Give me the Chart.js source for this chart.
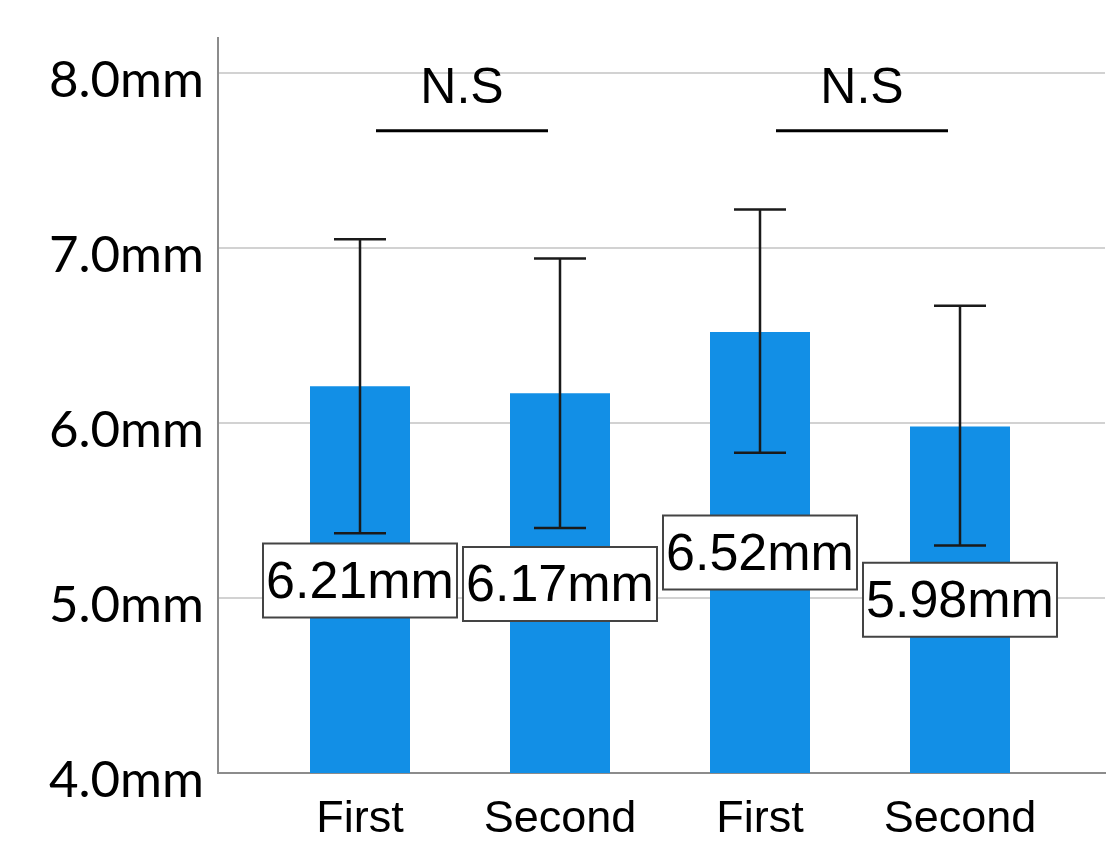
<!DOCTYPE html>
<html>
<head>
<meta charset="utf-8">
<script src="https://cdn.jsdelivr.net/npm/chart.js@4.4.1/dist/chart.umd.min.js"></script>
<style>
  html, body { margin: 0; padding: 0; background: #fff; }
  #wrap { width: 1107px; height: 852px; position: relative; }
</style>
</head>
<body>
<div id="wrap"><canvas id="barChart"></canvas></div>
<script>
// data
const categories = ['First', 'Second', 'First', 'Second'];
const means = [6.21, 6.17, 6.52, 5.98];
const errLow = [5.37, 5.40, 5.83, 5.30];
const errHigh = [7.05, 6.94, 7.22, 6.67];
const valueLabels = ['6.21mm', '6.17mm', '6.52mm', '5.98mm'];
const yTicks = [4, 5, 6, 7, 8];

// where the value boxes sit (in y units) and the N.S brackets
const labelAt = [5.10, 5.08, 5.26, 4.99];
const brackets = [
    { from: 0, to: 1, text: 'N.S' },
    { from: 2, to: 3, text: 'N.S' }
];

const points = means.map((v, i) => ({ x: i, y: v }));

// error bars + value boxes + N.S brackets
const extrasPlugin = {
    id: 'extras',
    afterDatasetsDraw(chart) {
        const ctx = chart.ctx;
        const xs = chart.scales.x;
        const ys = chart.scales.y;

        ctx.save();
        // error bars
        ctx.strokeStyle = '#1a1a1a';
        ctx.lineWidth = 2.5;
        means.forEach((m, i) => {
            const x = xs.getPixelForValue(i);
            const yTop = ys.getPixelForValue(errHigh[i]);
            const yBot = ys.getPixelForValue(errLow[i]);
            ctx.beginPath();
            ctx.moveTo(x, yTop); ctx.lineTo(x, yBot);
            ctx.moveTo(x - 26, yTop); ctx.lineTo(x + 26, yTop);
            ctx.moveTo(x - 26, yBot); ctx.lineTo(x + 26, yBot);
            ctx.stroke();
        });

        // value boxes
        ctx.font = '52px "Liberation Sans", Arial, sans-serif';
        ctx.textAlign = 'center';
        ctx.textBaseline = 'middle';
        valueLabels.forEach((txt, i) => {
            const x = xs.getPixelForValue(i);
            const y = ys.getPixelForValue(labelAt[i]);
            const w = 194, h = 74;
            ctx.fillStyle = '#fff';
            ctx.fillRect(x - w / 2, y - h / 2, w, h);
            ctx.strokeStyle = '#444';
            ctx.lineWidth = 2;
            ctx.strokeRect(x - w / 2, y - h / 2, w, h);
            ctx.fillStyle = '#000';
            ctx.fillText(txt, x, y + 3);
        });

        // N.S brackets
        ctx.font = '50px "Liberation Sans", Arial, sans-serif';
        brackets.forEach(b => {
            const x = (xs.getPixelForValue(b.from) + xs.getPixelForValue(b.to)) / 2 + 2;
            const yLine = ys.getPixelForValue(7.67);
            ctx.strokeStyle = '#000';
            ctx.lineWidth = 3;
            ctx.beginPath();
            ctx.moveTo(x - 86, yLine); ctx.lineTo(x + 86, yLine);
            ctx.stroke();
            ctx.fillStyle = '#000';
            ctx.fillText(b.text, x, ys.getPixelForValue(7.91));
        });
        ctx.restore();
    }
};

const ctx = document.getElementById('barChart').getContext('2d');
new Chart(ctx, {
    type: 'bar',
    data: {
        datasets: [{
            data: points,
            backgroundColor: '#128fe6',
            borderWidth: 0,
            barPercentage: 0.5,
            categoryPercentage: 1
        }]
    },
    options: {
        responsive: true,
        maintainAspectRatio: false,
        animation: false,
        layout: { padding: { top: 38, right: 2, left: 0, bottom: 0 } },
        plugins: {
            legend: { display: false },
            tooltip: { enabled: false }
        },
        scales: {
            x: {
                type: 'linear',
                offset: false,
                min: -0.71,
                max: 3.725,
                afterBuildTicks(scale) {
                    scale.ticks = categories.map((c, i) => ({ value: i }));
                },
                afterFit(scale) { scale.height = 79; },
                grid: { display: false, drawTicks: false },
                border: { color: '#8c8c8c', width: 2 },
                ticks: {
                    padding: 20,
                    color: '#000',
                    font: { family: '"Liberation Sans", Arial, sans-serif', size: 45 },
                    callback: (v) => categories[v]
                }
            },
            y: {
                min: 4,
                max: 8.2,
                afterBuildTicks(scale) {
                    scale.ticks = yTicks.map(v => ({ value: v }));
                },
                afterFit(scale) {
                    scale.width = 218;
                    scale.paddingTop = 0;
                    scale.paddingBottom = 0;
                },
                grid: { color: '#d2d2d2', lineWidth: 2, drawTicks: false },
                border: { color: '#8c8c8c', width: 2 },
                ticks: {
                    padding: 14,
                    labelOffset: 8,
                    color: '#000',
                    font: { family: 'Lato, "Open Sans", sans-serif', size: 51, lineHeight: 0.8 },
                    callback: (v) => v.toFixed(1) + 'mm'
                }
            }
        }
    },
    plugins: [extrasPlugin]
});
</script>
</body>
</html>
